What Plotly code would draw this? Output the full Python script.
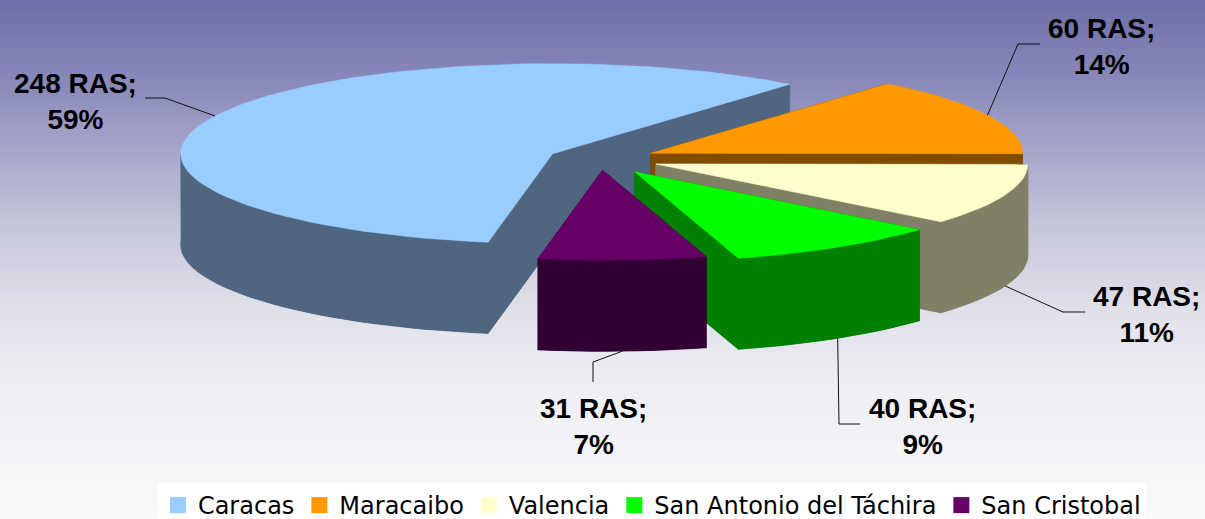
import math
import numpy as np
import plotly.graph_objects as go

# ---------------- data ----------------
cities = ["Caracas", "Maracaibo", "Valencia", "San Antonio del Táchira", "San Cristobal"]
ras_counts = [248, 60, 47, 40, 31]
pct_labels = ["59%", "14%", "11%", "9%", "7%"]

# ---------------- style ----------------
TOP_COLORS = ["#99CCFF", "#FF9900", "#FFFFCC", "#00FF00", "#660066"]
SIDE_COLORS = ["#4F6580", "#804C00", "#808066", "#008000", "#330033"]
PULL = [0.14, 0.15, 0.16, 0.17, 0.125]
CX, CY, RX, RY, DEPTH = 600.0, 159.0, 372.0, 90.0, 91.0
START_DEG = 190.0  # clockwise from 12 o'clock
W, H = 1205, 519

# leader elbows / ends and label centres (layout positions, pixels)
LEADER_PTS = [
    [(165, 98), (145, 98)],
    [(1018, 44), (1040, 44)],
    [(1063, 312), (1085, 312)],
    [(839, 424), (860, 424)],
    [(593, 362), (593, 382)],
]
LABEL_POS = [(75, 101), (1101, 46), (1146, 314), (922, 426), (593, 426)]

GRAD_STOPS = [
    (0.00, (110, 110, 168)),
    (0.15, (135, 135, 185)),
    (0.30, (168, 168, 203)),
    (0.45, (200, 200, 220)),
    (0.60, (224, 224, 234)),
    (0.75, (238, 238, 243)),
    (1.00, (250, 250, 252)),
]


def grad_color(t):
    for (t0, c0), (t1, c1) in zip(GRAD_STOPS[:-1], GRAD_STOPS[1:]):
        if t0 <= t <= t1:
            f = (t - t0) / (t1 - t0)
            c = [round(a + (b - a) * f) for a, b in zip(c0, c1)]
            return "rgb(%d,%d,%d)" % tuple(c)
    return "rgb(%d,%d,%d)" % GRAD_STOPS[-1][1]


def rim(theta_deg, ox, oy):
    t = math.radians(theta_deg)
    return ox + RX * math.sin(t), oy - RY * math.cos(t)


fig = go.Figure()


def poly(xs, ys, color):
    fig.add_trace(go.Scatter(
        x=list(xs) + [xs[0]], y=list(ys) + [ys[0]], mode="lines", fill="toself",
        fillcolor=color, line=dict(width=0.5, color=color), hoverinfo="skip",
        showlegend=False))


def front_range(a0, a1):
    """part of [a0, a1] (degrees) where the outer wall faces the viewer (90..270 mod 360)."""
    out = []
    for k in (-360, 0, 360):
        lo, hi = max(a0, 90 + k), min(a1, 270 + k)
        if hi > lo:
            out.append((lo, hi))
    return out


total = float(sum(ras_counts))
cum = 0.0
leader_starts = []
for i, v in enumerate(ras_counts):
    a0 = START_DEG + 360.0 * cum / total
    a1 = START_DEG + 360.0 * (cum + v) / total
    cum += v
    mid = 0.5 * (a0 + a1)
    mt = math.radians(mid)
    ox = CX + PULL[i] * RX * math.sin(mt)
    oy = CY - PULL[i] * RY * math.cos(mt)
    n = max(8, int((a1 - a0) / 2))
    th = np.linspace(a0, a1, n)
    ax = [rim(t, ox, oy)[0] for t in th]
    ay = [rim(t, ox, oy)[1] for t in th]
    side = SIDE_COLORS[i]
    # bottom face
    poly([ox] + ax, [oy + DEPTH] + [y + DEPTH for y in ay], side)
    # visible outer wall
    for lo, hi in front_range(a0, a1):
        tw = np.linspace(lo, hi, max(4, int((hi - lo) / 2)))
        wx = [rim(t, ox, oy)[0] for t in tw]
        wy = [rim(t, ox, oy)[1] for t in tw]
        poly(wx + wx[::-1], wy + [y + DEPTH for y in wy[::-1]], side)
    # radial faces
    poly([ox, ax[0], ax[0], ox], [oy, ay[0], ay[0] + DEPTH, oy + DEPTH], side)
    poly([ox, ax[-1], ax[-1], ox], [oy, ay[-1], ay[-1] + DEPTH, oy + DEPTH], side)
    # top face
    poly([ox] + ax, [oy] + ay, TOP_COLORS[i])
    sx, sy = rim(mid, ox, oy)
    if math.cos(mt) < 0:
        sy += DEPTH
    leader_starts.append((sx, sy))

# leader lines
for i, (sx, sy) in enumerate(leader_starts):
    pts = [(sx, sy)] + LEADER_PTS[i]
    fig.add_trace(go.Scatter(x=[p[0] for p in pts], y=[p[1] for p in pts], mode="lines",
                             line=dict(color="#111111", width=1), hoverinfo="skip",
                             showlegend=False))

# labels
for i, city in enumerate(cities):
    fig.add_annotation(x=LABEL_POS[i][0], y=LABEL_POS[i][1], xref="x", yref="y",
                       text="<b>%d RAS;<br>%s</b>" % (ras_counts[i], pct_labels[i]),
                       showarrow=False, xanchor="center", yanchor="middle",
                       font=dict(family="Liberation Sans, Arial", size=28, color="black"))

# legend entries
for i, city in enumerate(cities):
    fig.add_trace(go.Scatter(x=[None], y=[None], mode="markers", name=city,
                             marker=dict(symbol="square", size=16, color=TOP_COLORS[i],
                                         line=dict(width=0))))

# background gradient
N = 104
shapes = []
for k in range(N):
    shapes.append(dict(type="rect", xref="paper", yref="paper", x0=0, x1=1,
                       y0=1 - (k + 1) / N, y1=1 - k / N + 0.002, layer="below",
                       line=dict(width=0), fillcolor=grad_color((k + 0.5) / N)))

fig.update_layout(
    width=W, height=H, margin=dict(l=0, r=0, t=0, b=0, autoexpand=False),
    paper_bgcolor="rgb(250,250,252)", plot_bgcolor="rgba(0,0,0,0)",
    shapes=shapes,
    xaxis=dict(range=[0, W], visible=False, fixedrange=True),
    yaxis=dict(range=[H, 0], visible=False, fixedrange=True),
    showlegend=True,
    legend=dict(orientation="h", x=0.541, xanchor="center", y=1 - 483 / H, yanchor="top",
                xref="container", yref="container",
                bgcolor="white", font=dict(family="DejaVu Sans", size=24, color="black"),
                itemwidth=30, tracegroupgap=0, traceorder="normal"),
)

fig.write_html("out.html", config={"displayModeBar": False},
               post_script="document.body.style.margin='0px';")
